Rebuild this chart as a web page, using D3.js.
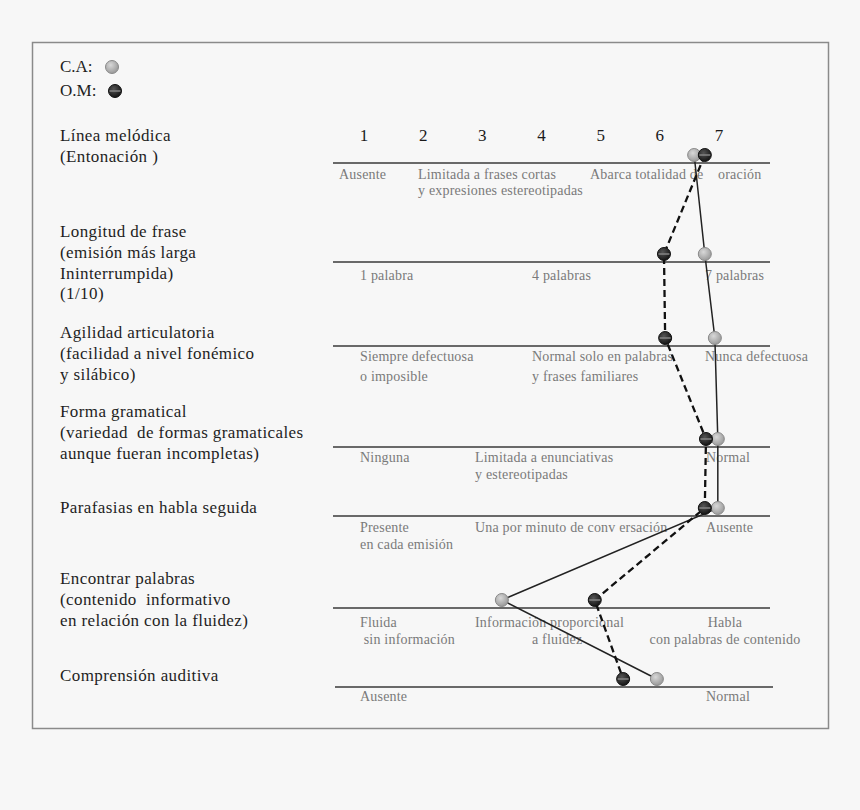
<!DOCTYPE html>
<html>
<head>
<meta charset="utf-8">
<script src="https://cdn.jsdelivr.net/npm/d3@7/dist/d3.min.js"></script>
<style>
  body { margin: 0; background: #f7f7f7; }
  svg text { font-family: "Liberation Serif", "DejaVu Serif", serif; }
</style>
</head>
<body>
<script>
  // escala 1..7
  let scaleTicks = [1, 2, 3, 4, 5, 6, 7];

  // etiquetas de cada criterio (una entrada por linea)
  let criteria = [
    ["Línea melódica", "(Entonación )"],
    ["Longitud de frase", "(emisión más larga", "Ininterrumpida)", "(1/10)"],
    ["Agilidad articulatoria", "(facilidad a nivel fonémico", "y silábico)"],
    ["Forma gramatical", "(variedad  de formas gramaticales", "aunque fueran incompletas)"],
    ["Parafasias en habla seguida"],
    ["Encontrar palabras", "(contenido  informativo", "en relación con la fluidez)"],
    ["Comprensión auditiva"]
  ];

  // puntuaciones
  let caValues = [6.58, 6.76, 6.93, 6.98, 6.98, 3.33, 5.95];
  let omValues = [6.76, 6.07, 6.09, 6.78, 6.76, 4.90, 5.38];

  // descriptores bajo cada linea: [columna, lineas]
  let descriptors = [
    [["Ausente"], ["Limitada a frases cortas", "y expresiones estereotipadas"], ["Abarca totalidad de"], ["oración"]],
    [["1 palabra"], ["4 palabras"], ["7 palabras"]],
    [["Siempre defectuosa", "o imposible"], ["Normal solo en palabras", "y frases familiares"], ["Nunca defectuosa"]],
    [["Ninguna"], ["Limitada a enunciativas", "y estereotipadas"], ["Normal"]],
    [["Presente", "en cada emisión"], ["Una por minuto de conv ersación"], ["Ausente"]],
    [["Fluida", " sin información"], ["Información proporcional", "a fluidez"], ["Habla", "con palabras de contenido"]],
    [["Ausente"], ["Normal"]]
  ];

  // ---- layout ----
  let width = 860, height = 810;
  let rowLineY = [163, 262, 346, 447, 516, 608, 687];
  let labelTopY = [141, 237, 338, 417, 513, 584, 681];
  let descDy = [16, 18, 15, 15, 16, 19, 14];
  let descGap = [16, 17, 20, 17, 17, 17, 17];
  let descX = [
    [{x: 339}, {x: 418}, {x: 590}, {x: 718}],
    [{x: 360}, {x: 532}, {x: 705}],
    [{x: 360}, {x: 532}, {x: 705}],
    [{x: 360}, {x: 475}, {x: 706}],
    [{x: 360}, {x: 475}, {x: 706}],
    [{x: 360}, {x: 475, sub: 532}, {x: 725, mid: true}],
    [{x: 360}, {x: 706}]
  ];

  let svg = d3.select("body").append("svg")
    .attr("width", width).attr("height", height);

  svg.append("rect").attr("width", width).attr("height", height).style("fill", "#f7f7f7");
  svg.append("rect")
    .attr("x", 32.5).attr("y", 42.5).attr("width", 796).attr("height", 686)
    .style("fill", "none").style("stroke", "#8a8a8a").style("stroke-width", 1.5);

  let defs = svg.append("defs");
  let gCA = defs.append("radialGradient").attr("id", "gca").attr("cx", "40%").attr("cy", "35%").attr("r", "65%");
  gCA.append("stop").attr("offset", "0%").attr("stop-color", "#d8d8d8");
  gCA.append("stop").attr("offset", "100%").attr("stop-color", "#9a9a9a");
  let gOM = defs.append("radialGradient").attr("id", "gom").attr("cx", "40%").attr("cy", "35%").attr("r", "65%");
  gOM.append("stop").attr("offset", "0%").attr("stop-color", "#555");
  gOM.append("stop").attr("offset", "100%").attr("stop-color", "#151515");

  let x = d3.scaleLinear().domain([1, 7]).range([364, 719]);
  let dotOffset = -8;

  // numeros de la escala
  svg.append("g").selectAll("text")
    .data(scaleTicks).enter().append("text")
    .attr("x", d => x(d)).attr("y", 141)
    .attr("text-anchor", "middle")
    .style("font-size", "17px").style("fill", "#1a1a1a")
    .text(d => d);

  // etiquetas de criterios
  criteria.forEach(function(lines, i) {
    svg.append("g").selectAll("text")
      .data(lines).enter().append("text")
      .attr("x", 60).attr("y", (d, j) => labelTopY[i] + j * 20.8)
      .style("font-size", "17px").style("letter-spacing", "0.4px").style("fill", "#1e1e1e")
      .style("white-space", "pre")
      .text(d => d);
  });

  // lineas horizontales
  svg.append("g").selectAll("line")
    .data(rowLineY).enter().append("line")
    .attr("x1", (d, i) => i === 6 ? 335 : 333)
    .attr("x2", (d, i) => i === 6 ? 773 : 770)
    .attr("y1", d => d).attr("y2", d => d)
    .style("stroke", "#3a3a3a").style("stroke-width", 1.6);

  // descriptores
  descriptors.forEach(function(cols, i) {
    cols.forEach(function(lines, k) {
      let pos = descX[i][k];
      svg.append("g").selectAll("text")
        .data(lines).enter().append("text")
        .attr("x", (d, j) => pos.mid ? pos.x : (j > 0 && pos.sub ? pos.sub : pos.x))
        .attr("y", (d, j) => rowLineY[i] + descDy[i] + j * descGap[i])
        .attr("text-anchor", pos.mid ? "middle" : "start")
        .style("font-size", "14px").style("letter-spacing", "0.2px").style("fill", "#7a7a7a")
        .style("white-space", "pre")
        .text(d => d);
    });
  });

  // trayectorias
  let line = d3.line()
    .x(d => x(d))
    .y((d, i) => rowLineY[i] + dotOffset);

  svg.append("path").attr("d", line(caValues))
    .style("fill", "none").style("stroke", "#222").style("stroke-width", 1.5);
  svg.append("path").attr("d", line(omValues))
    .style("fill", "none").style("stroke", "#111").style("stroke-width", 2.3)
    .style("stroke-dasharray", "7,4");

  function caDot(g, cx, cy) {
    g.append("circle").attr("cx", cx).attr("cy", cy).attr("r", 6.5)
      .style("fill", "url(#gca)").style("stroke", "#8a8a8a").style("stroke-width", 1);
  }
  function omDot(g, cx, cy) {
    g.append("circle").attr("cx", cx).attr("cy", cy).attr("r", 6.5)
      .style("fill", "url(#gom)").style("stroke", "#111").style("stroke-width", 1);
    g.append("line").attr("x1", cx - 5.5).attr("x2", cx + 5.5).attr("y1", cy).attr("y2", cy)
      .style("stroke", "#8a8a8a").style("stroke-width", 1.4);
  }

  let dots = svg.append("g");
  caValues.forEach((v, i) => caDot(dots, x(v), rowLineY[i] + dotOffset));
  omValues.forEach((v, i) => omDot(dots, x(v), rowLineY[i] + dotOffset));

  // leyenda
  svg.append("text").attr("x", 60).attr("y", 72).style("font-size", "17px").style("fill", "#1e1e1e").text("C.A:");
  svg.append("text").attr("x", 60).attr("y", 96).style("font-size", "17px").style("fill", "#1e1e1e").text("O.M:");
  caDot(svg, 112, 67);
  omDot(svg, 115, 91);
</script>
</body>
</html>
